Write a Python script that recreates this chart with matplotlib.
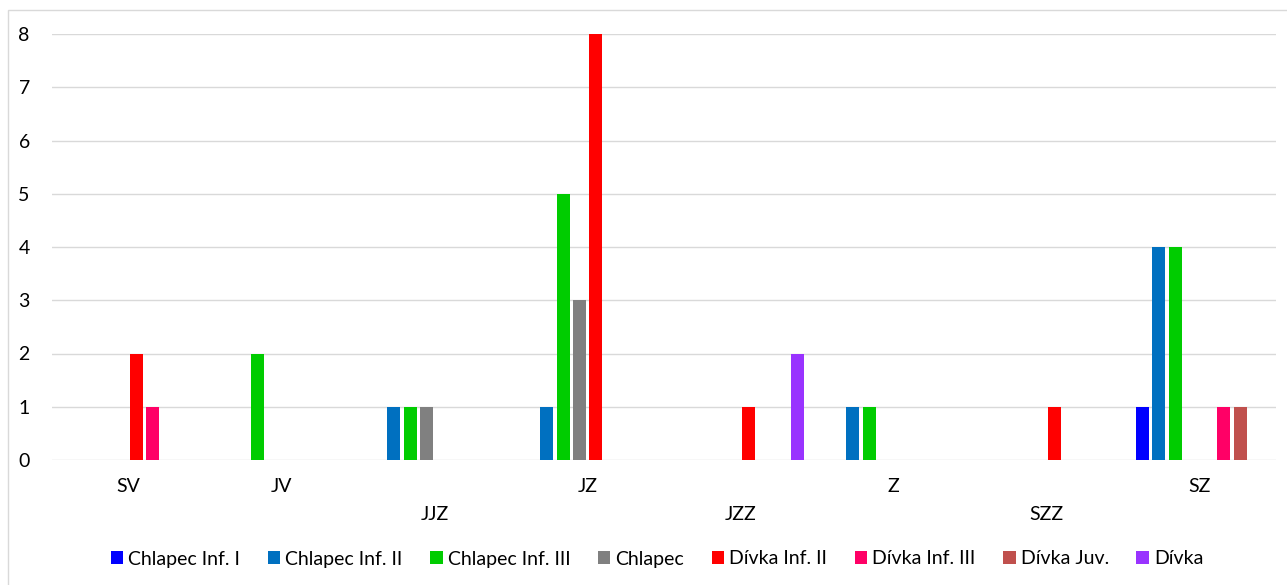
import matplotlib
matplotlib.use("Agg")
import matplotlib.pyplot as plt
from matplotlib.patches import Rectangle
import numpy as np

plt.rcParams['font.family'] = ['Lato', 'DejaVu Sans']

categories = ["SV", "JV", "JJZ", "JZ", "JZZ", "Z", "SZZ", "SZ"]
series_names = ["Chlapec Inf. I", "Chlapec Inf. II", "Chlapec Inf. III", "Chlapec",
                "Dívka Inf. II", "Dívka Inf. III", "Dívka Juv.", "Dívka"]
chlapec_inf1 = [0, 0, 0, 0, 0, 0, 0, 1]
chlapec_inf2 = [0, 0, 1, 1, 0, 1, 0, 4]
chlapec_inf3 = [0, 2, 1, 5, 0, 1, 0, 4]
chlapec = [0, 0, 1, 3, 0, 0, 0, 0]
divka_inf2 = [2, 0, 0, 8, 1, 0, 1, 0]
divka_inf3 = [1, 0, 0, 0, 0, 0, 0, 1]
divka_juv = [0, 0, 0, 0, 0, 0, 0, 1]
divka = [0, 0, 0, 0, 2, 0, 0, 0]
series_values = [chlapec_inf1, chlapec_inf2, chlapec_inf3, chlapec,
                 divka_inf2, divka_inf3, divka_juv, divka]
colors = ["#0000FF", "#0070C0", "#00CC00", "#808080",
          "#FF0000", "#FF0066", "#C0504D", "#9933FF"]
yticks = [0, 1, 2, 3, 4, 5, 6, 7, 8]

W, H = 1287, 585
fig = plt.figure(figsize=(W / 100, H / 100), dpi=100)
fig.patches.append(Rectangle((8 / W, -0.1), 1.2, (H - 10) / H + 0.1,
                             transform=fig.transFigure, fill=False,
                             edgecolor="#D9D9D9", linewidth=1.0))
ax = fig.add_axes([52 / W, (H - 460) / H, (1276 - 52) / W, 426 / H])

x = np.arange(len(categories))
pitch = 0.106
bw = 0.085
n = len(series_values)
for i, (vals, name, c) in enumerate(zip(series_values, series_names, colors)):
    ax.bar(x + (i - (n - 1) / 2) * pitch, vals, width=bw, color=c, label=name, zorder=3)

ax.set_xlim(-0.5, len(categories) - 0.5)
ax.set_ylim(0, 8)
ax.set_yticks(yticks)
ax.set_yticklabels([str(v) for v in yticks])
ax.grid(axis='y', color="#D9D9D9", linewidth=1.0, zorder=0)
for s in ax.spines.values():
    s.set_visible(False)
ax.tick_params(axis='both', length=0, labelsize=14, colors="black")
ax.tick_params(axis='y', pad=16)
ax.set_xticks(x)
ax.set_xticklabels(categories)
for i, t in enumerate(ax.xaxis.get_major_ticks()):
    if categories[i] in ("JJZ", "JZZ", "SZZ"):
        t.set_pad(33)
    else:
        t.set_pad(13)

handles, labels = ax.get_legend_handles_labels()
leg = fig.legend(handles, labels, loc='center', bbox_to_anchor=(657 / W, 1 - 559 / H),
                 ncol=8, frameon=False, fontsize=14, handlelength=0.65, handleheight=0.65,
                 handletextpad=0.25, columnspacing=1.42)

fig.savefig("out.png", dpi=100)
